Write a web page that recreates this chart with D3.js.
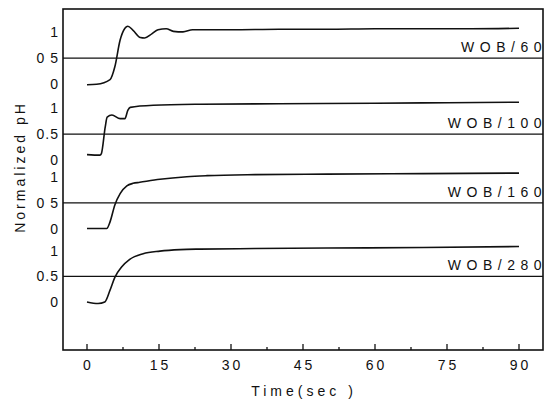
<!DOCTYPE html>
<html>
<head>
<meta charset="utf-8">
<script src="https://cdn.jsdelivr.net/npm/d3@7"></script>
<style>
  body { margin: 0; background: #fff; }
  text { font-family: "Liberation Sans", Arial, sans-serif; fill: #111; }
</style>
</head>
<body>
<svg id="chart" width="553" height="403"></svg>
<script>
// data
const xTicks = [0, 15, 30, 45, 60, 75, 90];
const minorTicks = [7.5, 22.5, 37.5, 52.5, 67.5, 82.5];
const panelNames = ["WOB/60", "WOB/100", "WOB/160", "WOB/280"];
const panelOffsets = [4.25, 2.77, 1.43, 0];
const yTickValues = [0, 0.5, 1];
const yTickLabels = [
  ["0", "0 5", "1"],
  ["0", "0.5", "1"],
  ["0", "0 5", "1"],
  ["0", "0.5", "1"]
];

const wob60 = [[0,-0.02],[2,-0.01],[4.8,0.08],[5.8,0.33],[6.9,0.85],[7.9,1.08],[8.5,1.12],[9.6,1.04],[11.1,0.9],[12,0.89],[13.5,0.97],[14.8,1.05],[16.5,1.07],[18,1.02],[20,1.01],[22,1.05],[25,1.05],[30,1.05],[40,1.06],[50,1.06],[60,1.07],[70,1.07],[80,1.07],[90,1.08]];
const wob100 = [[0,0.1],[2.7,0.09],[3.0,0.12],[3.8,0.64],[4.2,0.83],[5.2,0.87],[6.9,0.8],[7.9,0.8],[8.5,0.96],[9,1.02],[13.8,1.06],[23.5,1.08],[40,1.09],[60,1.1],[75,1.11],[90,1.12]];
const wob160 = [[0,0],[4.1,0],[4.8,0.13],[5.8,0.46],[6.9,0.68],[8.3,0.83],[9.6,0.88],[11,0.9],[15.2,0.96],[20.8,1.01],[25,1.03],[35,1.05],[50,1.06],[70,1.07],[90,1.08]];
const wob280 = [[0,0],[2.3,-0.03],[3.7,0],[4.8,0.23],[5.8,0.48],[7.2,0.68],[8.9,0.83],[11.7,0.94],[15.2,0.99],[19.4,1.02],[23.5,1.03],[35,1.04],[50,1.05],[70,1.06],[90,1.08]];
const series = [wob60, wob100, wob160, wob280];

var svg = d3.select("#chart");
var plotLeft = 63, plotRight = 543, plotTop = 9, plotBottom = 350;

var x = d3.scaleLinear().domain([-5, 95]).range([plotLeft, plotRight]);
var y = d3.scaleLinear().domain([-0.935, 5.705]).range([plotBottom, plotTop]);

// frame
svg.append("rect")
  .attr("x", plotLeft).attr("y", plotTop)
  .attr("width", plotRight - plotLeft).attr("height", plotBottom - plotTop)
  .attr("fill", "none").attr("stroke", "#111").attr("stroke-width", 1.6);

// x ticks pointing inward
var g = svg.append("g");
g.selectAll(".major").data(xTicks).enter().append("line")
  .attr("x1", d => x(d)).attr("x2", d => x(d))
  .attr("y1", plotBottom).attr("y2", plotBottom - 6)
  .attr("stroke", "#111").attr("stroke-width", 1.3);
g.selectAll(".minor").data(minorTicks).enter().append("line")
  .attr("x1", d => x(d)).attr("x2", d => x(d))
  .attr("y1", plotBottom).attr("y2", plotBottom - 3)
  .attr("stroke", "#111").attr("stroke-width", 1.3);
g.selectAll(".xlab").data(xTicks).enter().append("text")
  .attr("x", d => x(d) + 1.5).attr("y", 370)
  .attr("text-anchor", "middle")
  .style("font-size", "14px").style("letter-spacing", "3px")
  .text(d => d);

var line = d3.line()
  .x(d => x(d[0]))
  .y(d => y(d[1]))
  .curve(d3.curveMonotoneX);

panelNames.forEach(function (name, i) {
  var off = panelOffsets[i];
  // 0.5 reference line across the frame
  svg.append("line")
    .attr("x1", plotLeft).attr("x2", plotRight)
    .attr("y1", y(off + 0.5)).attr("y2", y(off + 0.5))
    .attr("stroke", "#111").attr("stroke-width", 1.3);

  svg.append("path")
    .datum(series[i].map(p => [p[0], p[1] + off]))
    .attr("d", line)
    .attr("fill", "none").attr("stroke", "#111").attr("stroke-width", 1.6);

  svg.selectAll(".yl" + i).data(yTickValues).enter().append("text")
    .attr("x", 59).attr("y", d => y(off + d) + 5)
    .attr("text-anchor", "end")
    .style("font-size", "14px").style("letter-spacing", "1px")
    .text((d, j) => yTickLabels[i][j]);

  svg.append("text")
    .attr("x", plotRight + 4).attr("y", y(off + 0.5) - 6)
    .attr("text-anchor", "end")
    .style("font-size", "14px").style("letter-spacing", "5.5px")
    .text(name);
});

svg.append("text")
  .attr("transform", "translate(25," + 167 + ") rotate(-90)")
  .attr("text-anchor", "middle")
  .style("font-size", "14px").style("letter-spacing", "3px")
  .text("Normalized pH");

svg.append("text")
  .attr("x", 304).attr("y", 396)
  .attr("text-anchor", "middle")
  .style("font-size", "14px").style("letter-spacing", "4px")
  .text("Time(sec )");
</script>
</body>
</html>
